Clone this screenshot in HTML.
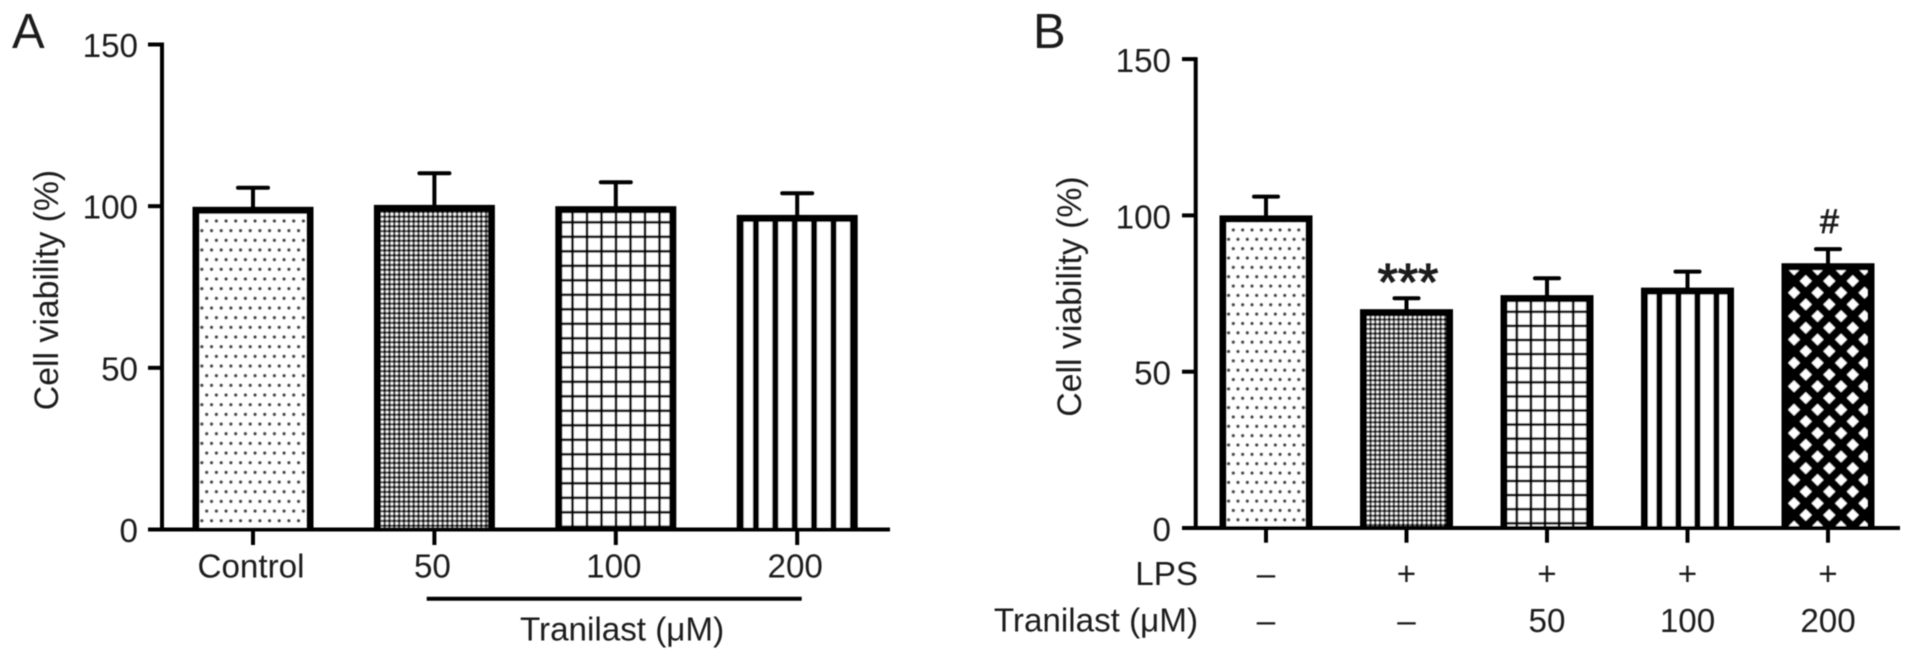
<!DOCTYPE html>
<html lang="en">
<head>
<meta charset="utf-8">
<title>Cell viability bar charts</title>
<style>
html,body{margin:0;padding:0;background:#fff;}
svg{display:block;}
text{font-family:"Liberation Sans",sans-serif;fill:#1c1c1c;font-size:33.2px;}
</style>
</head>
<body>
<svg id="figure" xmlns="http://www.w3.org/2000/svg" width="1913" height="661" viewBox="0 0 1913 661">
  <defs>
    <filter id="soft" x="0" y="0" width="100%" height="100%" filterUnits="userSpaceOnUse" primitiveUnits="userSpaceOnUse">
      <feGaussianBlur stdDeviation="0.6"/>
    </filter>
    <pattern id="dotsA" patternUnits="userSpaceOnUse" x="204.7" y="219" width="9.67" height="19.34">
      <rect width="9.67" height="19.34" fill="#fff"/>
      <circle cx="2" cy="2" r="1.7" fill="#444"/>
      <circle cx="6.83" cy="11.67" r="1.7" fill="#444"/>
    </pattern>
    <pattern id="dotsB" patternUnits="userSpaceOnUse" x="1231.3" y="228" width="9.35" height="18.7">
      <rect width="9.35" height="18.7" fill="#fff"/>
      <circle cx="2" cy="2" r="1.7" fill="#444"/>
      <circle cx="6.67" cy="11.35" r="1.7" fill="#444"/>
    </pattern>
    <pattern id="checkA" patternUnits="userSpaceOnUse" x="381" y="213" width="4.83" height="4.83">
      <rect width="4.83" height="4.83" fill="#5a5a5a"/>
      <circle cx="1.2" cy="1.2" r="1.45" fill="#fff"/>
      <circle cx="3.62" cy="3.62" r="1.35" fill="#000"/>
    </pattern>
    <pattern id="checkB" patternUnits="userSpaceOnUse" x="1367" y="316" width="4.67" height="4.67">
      <rect width="4.67" height="4.67" fill="#5a5a5a"/>
      <circle cx="1.2" cy="1.2" r="1.4" fill="#fff"/>
      <circle cx="3.5" cy="3.5" r="1.3" fill="#000"/>
    </pattern>
    <pattern id="gridA" patternUnits="userSpaceOnUse" x="616" y="512.3" width="14.5" height="14.5">
      <rect width="14.5" height="14.5" fill="#fff"/>
      <rect x="-1.25" width="2.5" height="14.5" fill="#000"/>
      <rect x="13.25" width="2.5" height="14.5" fill="#000"/>
      <rect y="-1.25" width="14.5" height="2.5" fill="#000"/>
      <rect y="13.25" width="14.5" height="2.5" fill="#000"/>
    </pattern>
    <pattern id="gridB" patternUnits="userSpaceOnUse" x="1545" y="523.3" width="14.1" height="14.1">
      <rect width="14.1" height="14.1" fill="#fff"/>
      <rect x="-1.25" width="2.5" height="14.1" fill="#000"/>
      <rect x="12.85" width="2.5" height="14.1" fill="#000"/>
      <rect y="-1.25" width="14.1" height="2.5" fill="#000"/>
      <rect y="12.85" width="14.1" height="2.5" fill="#000"/>
    </pattern>
    <pattern id="stripesA" patternUnits="userSpaceOnUse" x="794.7" y="0" width="19.4" height="20">
      <rect width="19.4" height="20" fill="#fff"/>
      <rect x="-3" width="6" height="20" fill="#000"/>
      <rect x="16.4" width="6" height="20" fill="#000"/>
    </pattern>
    <pattern id="stripesB" patternUnits="userSpaceOnUse" x="1678.4" y="0" width="19" height="20">
      <rect width="19" height="20" fill="#fff"/>
      <rect x="-3" width="6" height="20" fill="#000"/>
      <rect x="16" width="6" height="20" fill="#000"/>
    </pattern>
    <pattern id="diamondsB" patternUnits="userSpaceOnUse" x="1829.3" y="281" width="23.5" height="23.4">
      <rect width="23.5" height="23.4" fill="#000"/>
      <path d="M0 -6L6 0L0 6L-6 0Z M23.5 -6L29.5 0L23.5 6L17.5 0Z M0 17.4L6 23.4L0 29.4L-6 23.4Z M23.5 17.4L29.5 23.4L23.5 29.4L17.5 23.4Z M11.75 5.7L17.75 11.7L11.75 17.7L5.75 11.7Z" fill="#fff"/>
    </pattern>
  </defs>

  <rect width="1913" height="661" fill="#fff"/>

  <g id="root" filter="url(#soft)">
    <g id="panelA">
      <text x="12" y="48" style="font-size:49px">A</text>
      <text transform="translate(58,290) rotate(-90)" text-anchor="middle" style="font-size:33.8px">Cell viability (%)</text>
      <line x1="426.7" x2="801.7" y1="598.7" y2="598.7" stroke="#000" stroke-width="4"/>
      <text x="520" y="640.7">Tranilast (μM)</text>
    </g>
    <g id="panelB">
      <text x="1033" y="48" style="font-size:49px">B</text>
      <text transform="translate(1081,296.5) rotate(-90)" text-anchor="middle" style="font-size:33.8px">Cell viability (%)</text>
      <text x="1198" y="585" text-anchor="end">LPS</text>
      <text x="1198" y="631.7" text-anchor="end">Tranilast (μM)</text>
      <text x="1408" y="300" text-anchor="middle" style="font-size:52px;stroke:#1c1c1c;stroke-width:1.2px">***</text>
      <text x="1829.5" y="233" text-anchor="middle" style="font-size:34px;stroke:#1c1c1c;stroke-width:0.8px">#</text>
    </g>
  </g>
</svg>
<script>
// Panel A data
const categoriesA = ['Control', '50', '100', '200'];
const viabilityA = [99.8, 100.4, 100, 97.3];
const errorTopA = [105.7, 110.2, 107.4, 104];
const ticksA = [0, 50, 100, 150];

// Panel B data
const viabilityB = [100, 70, 74.5, 76.9, 84.7];
const errorTopB = [106, 73.5, 79.9, 82, 89.2];
const ticksB = [0, 50, 100, 150];
const lpsRow = ['–', '+', '+', '+', '+'];
const tranilastRow = ['–', '–', '50', '100', '200'];

const SVG_NS = 'http://www.w3.org/2000/svg';
const panelA = document.getElementById('panelA');
const panelB = document.getElementById('panelB');

function mk(parent, tag, attrs, txt) {
  const e = document.createElementNS(SVG_NS, tag);
  for (const k in attrs) e.setAttribute(k, attrs[k]);
  if (txt !== undefined) e.textContent = txt;
  parent.appendChild(e);
  return e;
}

const yA = v => 529.5 - v * 3.2333;
const xA = i => 253 + i * 181.4;
const yB = v => 528 - v * 3.126;
const xB = i => 1266 + i * 140.5;

const STROKE = 7;

function drawBar(parent, cx, w, top, base, fill) {
  const g = mk(parent, 'g', {});
  mk(g, 'rect', {x: cx - w / 2, y: top, width: w, height: base - top, fill: '#000'});
  mk(g, 'rect', {x: cx - w / 2 + STROKE, y: top + STROKE, width: w - 2 * STROKE, height: Math.max(0, base - top - STROKE), fill: fill});
  return g;
}

function drawError(parent, cx, capW, top, capY) {
  const g = mk(parent, 'g', {stroke: '#000', 'stroke-width': 4, fill: 'none'});
  mk(g, 'line', {x1: cx, x2: cx, y1: top + 1, y2: capY});
  mk(g, 'line', {x1: cx - capW / 2, x2: cx + capW / 2, y1: capY, y2: capY, 'stroke-linecap': 'round'});
  return g;
}

// ----- Panel A -----
const fillsA = ['url(#dotsA)', 'url(#checkA)', 'url(#gridA)', 'url(#stripesA)'];
viabilityA.forEach((v, i) => {
  const bar = drawBar(panelA, xA(i), 121, yA(v), yA(0), fillsA[i]);
  
  
  const err = drawError(panelA, xA(i), 30, yA(v), yA(errorTopA[i]));
  
  
});

const axisA = mk(panelA, 'g', {stroke: '#000', 'stroke-width': 4, fill: 'none'});


mk(axisA, 'line', {x1: 162, x2: 162, y1: yA(150) - 2, y2: yA(0)});
mk(axisA, 'line', {x1: 148, x2: 890, y1: yA(0), y2: yA(0)});

ticksA.forEach(t => {
  mk(axisA, 'line', {x1: 148, x2: 162, y1: yA(t), y2: yA(t)});
  const label = mk(panelA, 'text', {x: 138, y: yA(t) + 12.5, 'text-anchor': 'end'}, String(t));
  
  
});

categoriesA.forEach((c, i) => {
  mk(axisA, 'line', {x1: xA(i), x2: xA(i), y1: yA(0), y2: 545});
  const label = mk(panelA, 'text', {x: xA(i) - 2, y: 577.3, 'text-anchor': 'middle'}, c);
  
  
});

// ----- Panel B -----
const fillsB = ['url(#dotsB)', 'url(#checkB)', 'url(#gridB)', 'url(#stripesB)', 'url(#diamondsB)'];
viabilityB.forEach((v, i) => {
  const bar = drawBar(panelB, xB(i), 93, yB(v), yB(0), fillsB[i]);
  
  
  const err = drawError(panelB, xB(i), 24, yB(v), yB(errorTopB[i]));
  
  
});

const axisB = mk(panelB, 'g', {stroke: '#000', 'stroke-width': 4, fill: 'none'});


mk(axisB, 'line', {x1: 1195.7, x2: 1195.7, y1: yB(150) - 2, y2: yB(0)});
mk(axisB, 'line', {x1: 1182, x2: 1900, y1: yB(0), y2: yB(0)});

ticksB.forEach(t => {
  mk(axisB, 'line', {x1: 1182, x2: 1195.7, y1: yB(t), y2: yB(t)});
  const label = mk(panelB, 'text', {x: 1171, y: yB(t) + 13, 'text-anchor': 'end'}, String(t));
  
  
});

lpsRow.forEach((s, i) => {
  mk(axisB, 'line', {x1: xB(i), x2: xB(i), y1: yB(0), y2: 542.7});
  const lps = mk(panelB, 'text', {x: xB(i), y: 585, 'text-anchor': 'middle'}, s);
  
  
  const tr = mk(panelB, 'text', {x: xB(i), y: 632, 'text-anchor': 'middle'}, tranilastRow[i]);
  
  
});
</script>
</body>
</html>
